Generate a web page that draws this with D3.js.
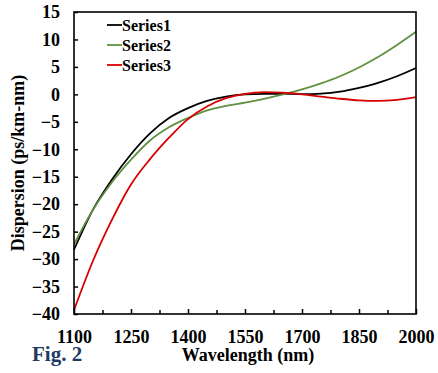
<!DOCTYPE html>
<html>
    <head>
        <meta charset="utf-8">
        <script src="https://d3js.org/d3.v7.min.js"></script>
    </head>
    <body style="margin:0; background:#ffffff; font-family:'Liberation Serif', serif;">
        <div id="chart"></div>
        <script>

            /* DATA */
            var wavelengths = [1100, 1150, 1200, 1250, 1300, 1350, 1400, 1450, 1500, 1550,
                               1600, 1650, 1700, 1750, 1800, 1850, 1900, 1950, 2000];
            var series1 = [-28.3, -21.0, -15.5, -10.9, -7.1, -4.3, -2.5, -1.2, -0.4, 0.0,
                           0.1, 0.1, 0.05, 0.15, 0.5, 1.2, 2.1, 3.3, 4.8];
            var series2 = [-27.3, -21.0, -16.0, -11.9, -8.4, -6.0, -4.3, -2.9, -2.1, -1.5,
                           -0.8, 0.0, 0.9, 2.0, 3.3, 4.9, 6.8, 9.0, 11.4];
            var series3 = [-39.3, -30.3, -22.8, -16.4, -11.8, -7.9, -4.5, -2.2, -0.7, 0.1,
                           0.4, 0.3, 0.0, -0.4, -0.8, -1.1, -1.2, -1.0, -0.5];
            var seriesNames = ["Series1", "Series2", "Series3"];
            var seriesColors = ["#000000", "#5f9140", "#d80000"];
            var xMajorTicks = [1100, 1250, 1400, 1550, 1700, 1850, 2000];
            var xMinorTicks = [1175, 1325, 1475, 1625, 1775, 1925];
            var yTicks = [-40, -35, -30, -25, -20, -15, -10, -5, 0, 5, 10, 15];

            var width = 438, height = 373;
            var margin = {left: 74, top: 12, right: 22, bottom: 59};
            var fontName = "Times New Roman, Liberation Serif, serif";

            var svg = d3.select("#chart")
                .append("svg")
                .attr("width", width)
                .attr("height", height)
                .style("font-family", fontName)
                .style("font-weight", "bold");

            var x = d3.scaleLinear().domain([1100, 2000]).range([margin.left, width - margin.right]);
            var y = d3.scaleLinear().domain([-40, 15]).range([height - margin.bottom, margin.top]);

            /* CURVES */
            var allSeries = [series1, series2, series3];
            var line = d3.line()
                .x(function(d) { return x(d[0]); })
                .y(function(d) { return y(d[1]); })
                .curve(d3.curveMonotoneX);

            svg.append("g")
                .selectAll("path")
                .data(allSeries)
                .enter()
                .append("path")
                    .attr("fill", "none")
                    .attr("stroke", function(d, i) { return seriesColors[i]; })
                    .attr("stroke-width", 1.8)
                    .attr("d", function(s) {
                        return line(wavelengths.map(function(w, i) { return [w, s[i]]; }));
                    });

            /* AXES */
            svg.append("g")
                .attr("transform", "translate(0," + y(-40) + ")")
                .call(d3.axisBottom(x).tickValues(xMajorTicks).tickSizeInner(-5).tickSizeOuter(0).tickPadding(16).tickFormat(d3.format("d")));
            svg.append("g")
                .attr("transform", "translate(0," + y(-40) + ")")
                .call(d3.axisBottom(x).tickValues(xMinorTicks).tickSizeInner(-4).tickSizeOuter(0).tickFormat(""));

            svg.append("g")
                .attr("transform", "translate(" + x(1100) + ",0)")
                .call(d3.axisLeft(y).tickValues(yTicks).tickSizeInner(-4).tickSizeOuter(0).tickPadding(14));

            svg.selectAll(".domain").remove();
            svg.selectAll("g").attr("font-family", null).attr("font-size", null);
            svg.selectAll(".tick line").attr("stroke", "#000").attr("stroke-width", 1.5);
            svg.selectAll(".tick text")
                .attr("fill", "#000")
                .style("font-family", fontName)
                .style("font-size", "18px");

            /* FRAME */
            svg.append("rect")
                .attr("x", x(1100))
                .attr("y", y(15))
                .attr("width", x(2000) - x(1100))
                .attr("height", y(-40) - y(15))
                .attr("fill", "none")
                .attr("stroke", "#000")
                .attr("stroke-width", 1.6);

            /* LEGEND */
            var legend = svg.append("g")
                .selectAll("g")
                .data(seriesNames)
                .enter()
                .append("g")
                    .attr("transform", function(d, i) { return "translate(107," + (25 + i * 20) + ")"; });
            legend.append("line")
                .attr("x1", 0).attr("x2", 15)
                .attr("stroke", function(d, i) { return seriesColors[i]; })
                .attr("stroke-width", 1.8);
            legend.append("text")
                .attr("x", 15)
                .attr("dy", "0.35em")
                .style("font-family", fontName)
                .style("font-size", "16px")
                .text(function(d) { return d; });

            /* TITLES */
            svg.append("text")
                .attr("transform", "translate(24," + ((y(15) + y(-40)) / 2) + ") rotate(-90)")
                .attr("text-anchor", "middle")
                .style("font-family", fontName)
                .style("font-size", "18px")
                .text("Dispersion (ps/km-nm)");

            svg.append("text")
                .attr("x", 248)
                .attr("y", 361)
                .attr("text-anchor", "middle")
                .style("font-family", fontName)
                .style("font-size", "18px")
                .text("Wavelength (nm)");

            svg.append("text")
                .attr("x", 32)
                .attr("y", 361)
                .attr("fill", "#1f3864")
                .style("font-family", fontName)
                .style("font-size", "21px")
                .text("Fig. 2");

        </script>
    </body>
</html>
